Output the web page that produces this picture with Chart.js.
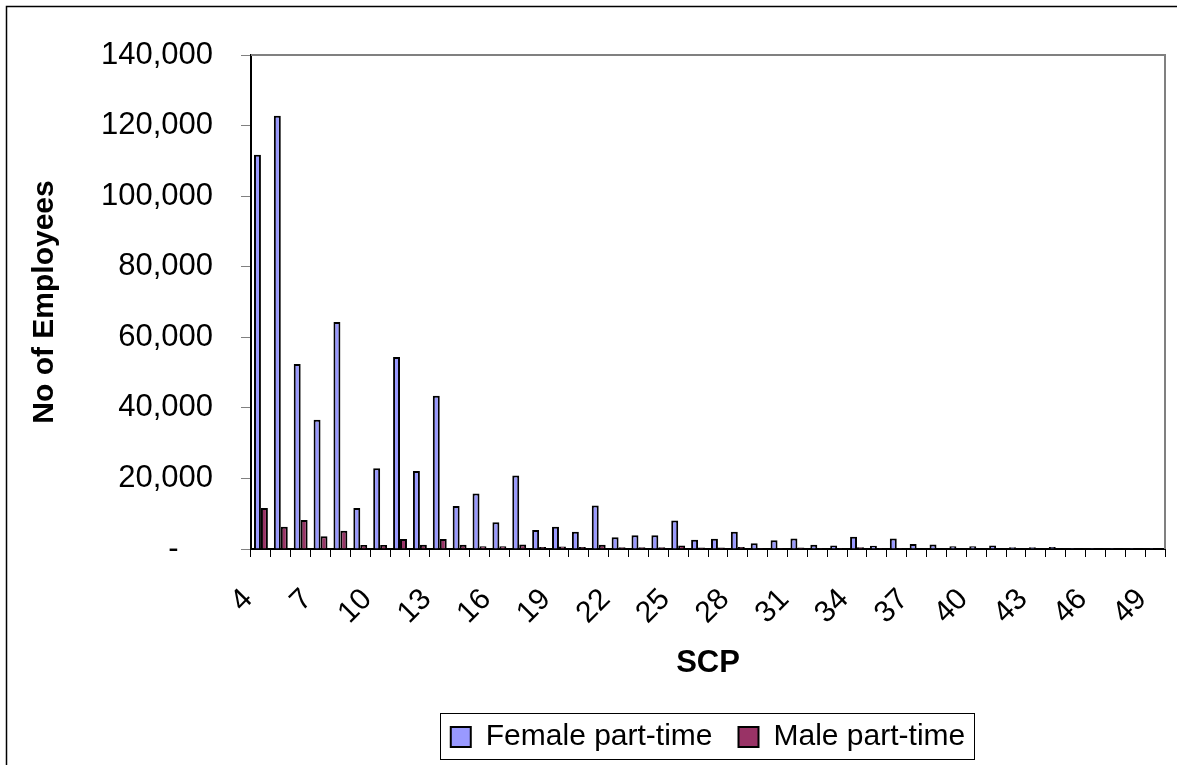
<!DOCTYPE html>
<html>
<head>
<meta charset="utf-8">
<title>Part-time employees by SCP</title>
<script src="https://cdn.jsdelivr.net/npm/chart.js@4/dist/chart.umd.min.js"></script>
<style>
  body { margin: 0; background: #fff; }
  #wrap { width: 1177px; height: 765px; position: relative; }
</style>
</head>
<body>
<div id="wrap"><canvas id="mycanvas"></canvas></div>
<script>
// spinal column points
var scp = [4, 5, 6, 7, 8, 9, 10, 11, 12, 13, 14, 15, 16, 17, 18, 19, 20, 21, 22, 23,
           24, 25, 26, 27, 28, 29, 30, 31, 32, 33, 34, 35, 36, 37, 38, 39, 40, 41, 42,
           43, 44, 45, 46, 47, 48, 49];

var femalePartTime = [111700, 122800, 52400, 36600, 64300, 11600, 22900, 54400, 22100, 43400,
                      12200, 15700, 7600, 20800, 5400, 6300, 4900, 12300, 3300, 3900,
                      3900, 8100, 2600, 2900, 4900, 1600, 2500, 3000, 1200, 1000,
                      3500, 900, 3000, 1400, 1300, 750, 750, 1000, 500, 500,
                      550, 300, 300, 300, 300, 300];

var malePartTime = [11600, 6300, 8200, 3600, 5200, 1100, 1100, 2800, 1200, 2800,
                    1200, 800, 800, 1300, 600, 700, 600, 1200, 500, 500,
                    500, 1000, 400, 400, 600, 300, 300, 400, 300, 300,
                    500, 300, 300, 200, 200, 200, 200, 200, 200, 200,
                    200, 200, 200, 200, 200, 200];

var yTicks = [0, 20000, 40000, 60000, 80000, 100000, 120000, 140000];

var font = "'Liberation Sans', Arial, sans-serif";
Chart.defaults.font.family = font;
Chart.defaults.color = '#000';

// outer frame, plot border and legend box
var frame = {
  id: 'frame',
  beforeDraw: function(chart) {
    var ctx = chart.ctx;
    ctx.save();
    ctx.fillStyle = '#fff';
    ctx.fillRect(0, 0, chart.width, chart.height);
    ctx.strokeStyle = '#000';
    ctx.lineWidth = 1.5;
    ctx.beginPath();
    ctx.moveTo(6.5, chart.height + 5);
    ctx.lineTo(6.5, 6.5);
    ctx.lineTo(chart.width + 5, 6.5);
    ctx.stroke();
    ctx.restore();
  },
  afterDraw: function(chart) {
    var a = chart.chartArea, ctx = chart.ctx;
    ctx.save();
    ctx.strokeStyle = '#808080';
    ctx.lineWidth = 2;
    ctx.beginPath();
    ctx.moveTo(a.left, a.top);
    ctx.lineTo(a.right, a.top);
    ctx.lineTo(a.right, a.bottom);
    ctx.stroke();

    var hb = chart.legend.legendHitBoxes;
    if (hb && hb.length) {
      var first = hb[0], last = hb[hb.length - 1];
      ctx.strokeStyle = '#000';
      ctx.lineWidth = 1;
      ctx.strokeRect(Math.round(first.left - 11) + 0.5, Math.round(first.top - 9) + 0.5,
                     Math.round(last.left + last.width - first.left + 20), first.height + 16);
    }
    ctx.restore();
  }
};

var ctx = document.getElementById('mycanvas');

var barGraph = new Chart(ctx, {
  type: 'bar',
  data: {
    labels: scp,
    datasets: [
      {
        label: 'Female part-time',
        backgroundColor: '#9999FF',
        borderColor: '#000',
        borderWidth: 2,
        data: femalePartTime
      },
      {
        label: 'Male part-time',
        backgroundColor: '#993366',
        borderColor: '#000',
        borderWidth: 2,
        data: malePartTime
      }
    ]
  },
  options: {
    responsive: true,
    maintainAspectRatio: false,
    animation: false,
    datasets: {
      bar: { categoryPercentage: 0.7, barPercentage: 1.0 }
    },
    layout: {
      padding: { left: 0, top: 55, right: 12, bottom: 3 }
    },
    scales: {
      x: {
        afterFit: function(scale) {
          scale.height = 147;
          scale.paddingLeft = 0;
          scale.paddingRight = 0;
        },
        grid: {
          offset: true,
          drawOnChartArea: false,
          drawTicks: true,
          tickLength: 8,
          color: '#000'
        },
        border: { display: true, color: '#000', width: 2 },
        ticks: {
          autoSkip: false,
          minRotation: 45,
          maxRotation: 45,
          padding: 25,
          labelOffset: -13,
          font: { size: 30 },
          callback: function(value, index) {
            return index % 3 === 0 ? String(scp[index]) : '';
          }
        },
        title: {
          display: true,
          text: 'SCP',
          font: { size: 31, weight: 'bold' },
          padding: { top: 0, bottom: 14 }
        }
      },
      y: {
        min: 0,
        max: 140000,
        afterFit: function(scale) { scale.width = 251; },
        afterBuildTicks: function(scale) {
          scale.ticks = yTicks.map(function(v) { return { value: v }; });
        },
        grid: {
          drawOnChartArea: false,
          drawTicks: true,
          tickLength: 10,
          color: '#808080'
        },
        border: { display: true, color: '#000', width: 2 },
        ticks: {
          padding: 28,
          font: { size: 31 },
          callback: function(value) {
            return value === 0 ? '-    ' : value.toLocaleString('en-US');
          }
        },
        title: {
          display: true,
          text: 'No of Employees',
          font: { size: 30, weight: 'bold' },
          padding: { top: 27, bottom: 0 }
        }
      }
    },
    plugins: {
      legend: {
        position: 'bottom',
        fullSize: false,
        labels: {
          boxWidth: 20,
          boxHeight: 20,
          padding: 26,
          font: { size: 30 },
          color: '#000'
        }
      },
      tooltip: { enabled: false }
    }
  },
  plugins: [frame]
});
</script>
</body>
</html>
